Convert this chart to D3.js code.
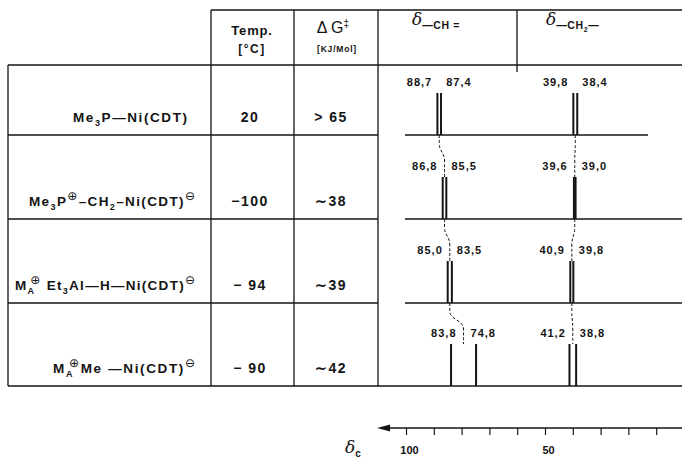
<!DOCTYPE html>
<html>
<head>
<meta charset="utf-8">
<script src="https://cdn.jsdelivr.net/npm/d3@7"></script>
<style>
  body { margin: 0; background: #fff; }
  text { font-family: "Liberation Sans", Arial, sans-serif; fill: #141414; }
</style>
</head>
<body>
<div id="chart"></div>
<script>
// compound names as runs of [text, kind]; kind: sub, sup, over (sup stacked over the previous sub)
const compounds = [
  [["Me"], ["3", "sub"], ["P—Ni(CDT)"]],
  [["Me"], ["3", "sub"], ["P"], ["⊕", "sup"], ["–CH"], ["2", "sub"], ["–Ni(CDT)"], ["⊖", "sup"]],
  [["M"], ["A", "sub"], ["⊕", "over"], [" Et"], ["3", "sub"], ["Al—H—Ni(CDT)"], ["⊖", "sup"]],
  [["M"], ["A", "sub"], ["⊕", "over"], ["Me —Ni(CDT)"], ["⊖", "sup"]]
]
const temps = ["20", "−100", "− 94", "− 90"]
const dG = ["> 65", "∼38", "∼39", "∼42"]
const chShifts = [[88.7, 87.4], [86.8, 85.5], [85.0, 83.5], [83.8, 74.8]]
const ch2Shifts = [[39.8, 38.4], [39.6, 39.0], [40.9, 39.8], [41.2, 38.8]]
const axisTicks = [100, 90, 80, 70, 60, 50, 40, 30, 20, 10]
const axisLabels = [100, 50]

const width = 682
const height = 458
const tableTop = 65
const rowBottoms = [135, 219, 303, 386]
const labelRight = [187, 195, 195, 195]
const labelWidth = [114, 166, 180, 142]
const col = {left: 8, temp: 211, dg: 294, spec: 378, ch2: 517, right: 682}
const headTop = 10
const peakH = 42
const axisY = 428

const svg = d3.select("#chart")
  .append("svg")
  .attr("width", width)
  .attr("height", height)
  .attr("viewBox", [0, 0, width, height])

const gridLayer = svg.append("g").attr("stroke", "#141414").attr("stroke-width", 1.3)
const textLayer = svg.append("g")
const specLayer = svg.append("g")
const axisLayer = svg.append("g")

const x = d3.scaleLinear().domain([100, 50]).range([406, 545])
const fmt = d => d.toFixed(1).replace(".", ",")

// table frame
gridLayer.append("line").attr("x1", col.temp).attr("x2", col.right).attr("y1", headTop).attr("y2", headTop)
gridLayer.append("line").attr("x1", col.left).attr("x2", col.right).attr("y1", tableTop).attr("y2", tableTop)
gridLayer.append("line").attr("x1", col.left).attr("x2", col.left).attr("y1", tableTop).attr("y2", rowBottoms[3])
gridLayer.selectAll("line.v")
  .data([col.temp, col.dg, col.spec])
  .join("line")
  .attr("class", "v")
  .attr("x1", d => d).attr("x2", d => d)
  .attr("y1", headTop).attr("y2", rowBottoms[3])
gridLayer.append("line").attr("x1", col.ch2).attr("x2", col.ch2).attr("y1", headTop).attr("y2", tableTop + 7)
// row separators on the left part
gridLayer.selectAll("line.h")
  .data(rowBottoms)
  .join("line")
  .attr("class", "h")
  .attr("x1", col.left).attr("x2", (d, i) => i == 3 ? col.right : col.spec)
  .attr("y1", d => d).attr("y2", d => d)

// header
const head = textLayer.append("g").attr("font-weight", "bold")
head.append("text").attr("x", 252).attr("y", 35).attr("text-anchor", "middle")
  .attr("font-size", 13).attr("letter-spacing", 0.8).text("Temp.")
head.append("text").attr("x", 252).attr("y", 53).attr("text-anchor", "middle")
  .attr("font-size", 12).attr("letter-spacing", 1.5).text("[°C]")
const dgt = textLayer.append("text").attr("x", 333).attr("y", 33).attr("text-anchor", "middle")
  .attr("font-size", 16)
dgt.append("tspan").text("Δ G")
dgt.append("tspan").attr("dy", -6).attr("font-size", 10).text("‡")
head.append("text").attr("x", 337).attr("y", 52).attr("text-anchor", "middle")
  .attr("font-size", 8.5).attr("letter-spacing", 0.8).text("[KJ/Mol]")

function deltaLabel(g, x0, y0, runs) {
  const t = g.append("text").attr("x", x0).attr("y", y0)
  t.append("tspan").attr("font-family", "DejaVu Serif").attr("font-style", "italic")
    .attr("font-size", 17).text("δ")
  let prev = 0
  runs.forEach(([s, dy]) => {
    t.append("tspan").attr("dy", dy - prev).attr("font-size", dy > 4 ? 7 : 10.5)
      .attr("font-weight", "bold").attr("letter-spacing", 0.6).text(s)
    prev = dy
  })
}
deltaLabel(textLayer, 412, 25, [["—CH =", 4]])
deltaLabel(textLayer, 546, 25, [["—CH", 4], ["2", 7], ["—", 4]])

// compound names
const shift = {"": 0, sub: 4, sup: -6, over: -6}
textLayer.selectAll("text.cmp")
  .data(compounds)
  .join("text")
  .attr("class", "cmp")
  .attr("x", (d, i) => labelRight[i])
  .attr("y", (d, i) => rowBottoms[i] - 13)
  .attr("text-anchor", "end")
  .attr("textLength", (d, i) => labelWidth[i])
  .attr("lengthAdjust", "spacing")
  .attr("font-size", 13.5)
  .attr("font-weight", "bold")
  .each(function (runs) {
    let prev = 0
    const t = d3.select(this)
    runs.forEach(([s, k = ""]) => {
      const sp = t.append("tspan").attr("dy", shift[k] - prev).text(s)
      if (k == "sub") sp.attr("font-size", 9)
      if (k == "sup" || k == "over") sp.attr("font-size", 12).attr("font-weight", "normal")
        .attr("font-family", "DejaVu Sans")
      if (k == "over") sp.attr("dx", -5)
      prev = shift[k]
    })
  })

textLayer.selectAll("text.temp")
  .data(temps)
  .join("text")
  .attr("class", "temp")
  .attr("x", 250).attr("y", (d, i) => rowBottoms[i] - 13)
  .attr("text-anchor", "middle")
  .attr("font-size", 14).attr("font-weight", "bold").attr("letter-spacing", 1.5)
  .text(d => d)

textLayer.selectAll("text.dg")
  .data(dG)
  .join("text")
  .attr("class", "dg")
  .attr("x", 331).attr("y", (d, i) => rowBottoms[i] - 13)
  .attr("text-anchor", "middle")
  .attr("font-size", 14).attr("font-weight", "bold").attr("letter-spacing", 1.5)
  .text(d => d)

// spectra: baselines
specLayer.selectAll("line.base")
  .data(rowBottoms.slice(0, 3))
  .join("line")
  .attr("class", "base")
  .attr("x1", 405).attr("x2", (d, i) => i == 0 ? 648 : col.right)
  .attr("y1", d => d).attr("y2", d => d)
  .attr("stroke", "#141414").attr("stroke-width", 1.3)

const groups = [chShifts, ch2Shifts]
groups.forEach(set => {
  const rows = specLayer.append("g")
    .selectAll("g")
    .data(set)
    .join("g")

  rows.selectAll("line")
    .data((d, i) => d.map(v => ({v, b: rowBottoms[i]})))
    .join("line")
    .attr("x1", d => x(d.v)).attr("x2", d => x(d.v))
    .attr("y1", d => d.b).attr("y2", d => d.b - peakH)
    .attr("stroke", "#141414").attr("stroke-width", 2)

  rows.append("text")
    .attr("x", d => x(d3.mean(d)) - 7)
    .attr("y", (d, i) => rowBottoms[i] - peakH - 7)
    .attr("text-anchor", "end")
    .attr("font-size", 11).attr("font-weight", "bold").attr("letter-spacing", 1)
    .text(d => fmt(d[0]))
  rows.append("text")
    .attr("x", d => x(d3.mean(d)) + 7)
    .attr("y", (d, i) => rowBottoms[i] - peakH - 7)
    .attr("font-size", 11).attr("font-weight", "bold").attr("letter-spacing", 1)
    .text(d => fmt(d[1]))

  // dashed correlation line between successive rows
  const line = d3.line().curve(d3.curveBumpY)
  const links = d3.range(3).map(i => {
    const x0 = x(d3.mean(set[i]))
    const x1 = x(d3.mean(set[i + 1]))
    const b = rowBottoms[i]
    return [[x0, b], [x0, b + 8], [x1, b + 26], [x1, rowBottoms[i + 1] - peakH]]
  })
  specLayer.append("g")
    .selectAll("path")
    .data(links)
    .join("path")
    .attr("d", line)
    .attr("fill", "none")
    .attr("stroke", "#141414")
    .attr("stroke-width", 1)
    .attr("stroke-dasharray", "3,2")
})

// chemical shift axis
axisLayer
  .attr("transform", `translate(0,${axisY})`)
  .call(d3.axisBottom(x).tickValues(axisTicks).tickSize(7).tickFormat(d => axisLabels.includes(d) ? d : ""))
  .call(g => g.select(".domain").remove())
  .call(g => g.selectAll(".tick line").attr("stroke", "#141414").attr("stroke-width", 1.2))
  .call(g => g.selectAll(".tick text")
    .attr("dx", 3).attr("dy", 16)
    .attr("font-family", "Liberation Sans, Arial, sans-serif")
    .attr("font-size", 11).attr("font-weight", "bold").attr("fill", "#141414"))
axisLayer.append("line")
  .attr("x1", x(110.4) + 8).attr("x2", width)
  .attr("stroke", "#141414").attr("stroke-width", 1.6)
axisLayer.append("path")
  .attr("d", `M${x(110.4)},0 L${x(110.4) + 13},-3.5 L${x(110.4) + 13},3.5 Z`)
  .attr("fill", "#141414")

const dc = svg.append("text").attr("x", 345).attr("y", 453)
dc.append("tspan").attr("font-family", "DejaVu Serif").attr("font-style", "italic")
  .attr("font-size", 17).text("δ")
dc.append("tspan").attr("dy", 4).attr("font-size", 10).attr("font-weight", "bold").text("c")
</script>
</body>
</html>
